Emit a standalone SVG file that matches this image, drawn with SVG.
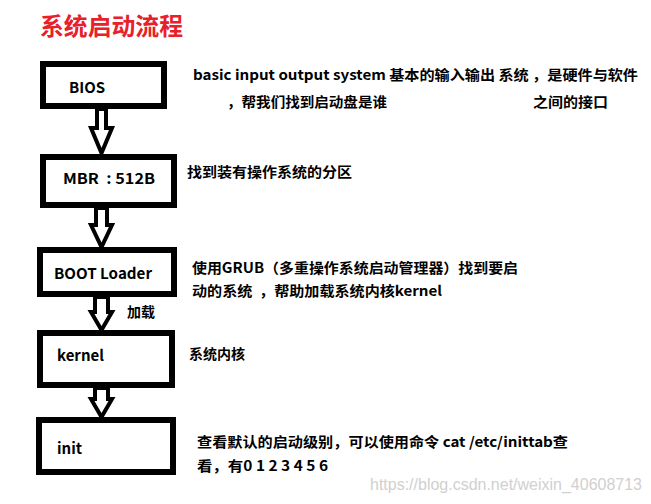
<svg xmlns="http://www.w3.org/2000/svg" width="651" height="504" viewBox="0 0 651 504">
<style>
.box{fill:#fff;stroke:#000;stroke-width:6}
.arr{fill:#fff;stroke:#000;stroke-width:4;stroke-linejoin:miter}
text{font-family:"Noto Sans CJK SC","Microsoft YaHei","Liberation Sans",sans-serif;font-weight:bold;fill:#000;white-space:pre}
.lbl{font-size:15px}
.note{font-size:14px}
.title{font-size:24px;fill:#e8202a}
.wm{font-family:"Liberation Sans",Arial,sans-serif;font-weight:normal;font-size:16px;fill:#d0d0d0}
</style>
<rect width="651" height="504" fill="#fff"/>
<text class="title" x="40" y="35" textLength="143" lengthAdjust="spacingAndGlyphs">系统启动流程</text>
<g id="connectors">
<polygon class="arr" points="97,109 97,128 91,128 101.5,153 112,128 106,128 106,109"/>
<polygon class="arr" points="96,208 96,225 91,225 101.5,247 112,225 107,225 107,208"/>
<polygon class="arr" points="95,297 95,312 91,312 101.5,330 112,312 108,312 108,297"/>
<polygon class="arr" points="95,388 95,399 91,399 101.5,417 112,399 108,399 108,388"/>
</g>
<g id="bios"><rect class="box" x="43" y="64" width="121" height="42"/><text class="lbl" x="69" y="93">BIOS</text></g>
<g id="mbr"><rect class="box" x="43" y="157" width="131" height="48"/><text class="lbl" x="63" y="184" textLength="92" lengthAdjust="spacingAndGlyphs">MBR  : 512B</text></g>
<g id="boot"><rect class="box" x="40" y="250" width="134" height="44"/><text class="lbl" x="54" y="279" textLength="98" lengthAdjust="spacingAndGlyphs">BOOT Loader</text></g>
<g id="kernel"><rect class="box" x="40" y="333" width="132" height="52"/><text class="lbl" x="57" y="361">kernel</text></g>
<g id="init"><rect class="box" x="39" y="420" width="134" height="52"/><text class="lbl" x="57" y="454">init</text></g>
<g id="notes">
<text class="note" x="193" y="80" textLength="445" lengthAdjust="spacingAndGlyphs">basic input output system 基本的输入输出 系统 ，是硬件与软件</text>
<text class="note" x="227" y="107" textLength="160" lengthAdjust="spacingAndGlyphs">，帮我们找到启动盘是谁</text>
<text class="note" x="533" y="107" textLength="75" lengthAdjust="spacingAndGlyphs">之间的接口</text>
<text class="note" x="187" y="177" textLength="165" lengthAdjust="spacingAndGlyphs">找到装有操作系统的分区</text>
<text class="note" x="192" y="273" textLength="326" lengthAdjust="spacingAndGlyphs">使用GRUB（多重操作系统启动管理器）找到要启</text>
<text class="note" x="192" y="296" textLength="250" lengthAdjust="spacingAndGlyphs">动的系统  ，帮助加载系统内核kernel</text>
<text class="note" x="127" y="317">加载</text>
<text class="note" x="189" y="359">系统内核</text>
<text class="note" x="197" y="447" textLength="371" lengthAdjust="spacingAndGlyphs">查看默认的启动级别，可以使用命令 cat /etc/inittab查</text>
<text class="note" x="197" y="471" textLength="131" lengthAdjust="spacingAndGlyphs">看，有0 1 2 3 4 5 6</text>
</g>
<text class="wm" x="370" y="490" textLength="272" lengthAdjust="spacingAndGlyphs">https://blog.csdn.net/weixin_40608713</text>
</svg>
